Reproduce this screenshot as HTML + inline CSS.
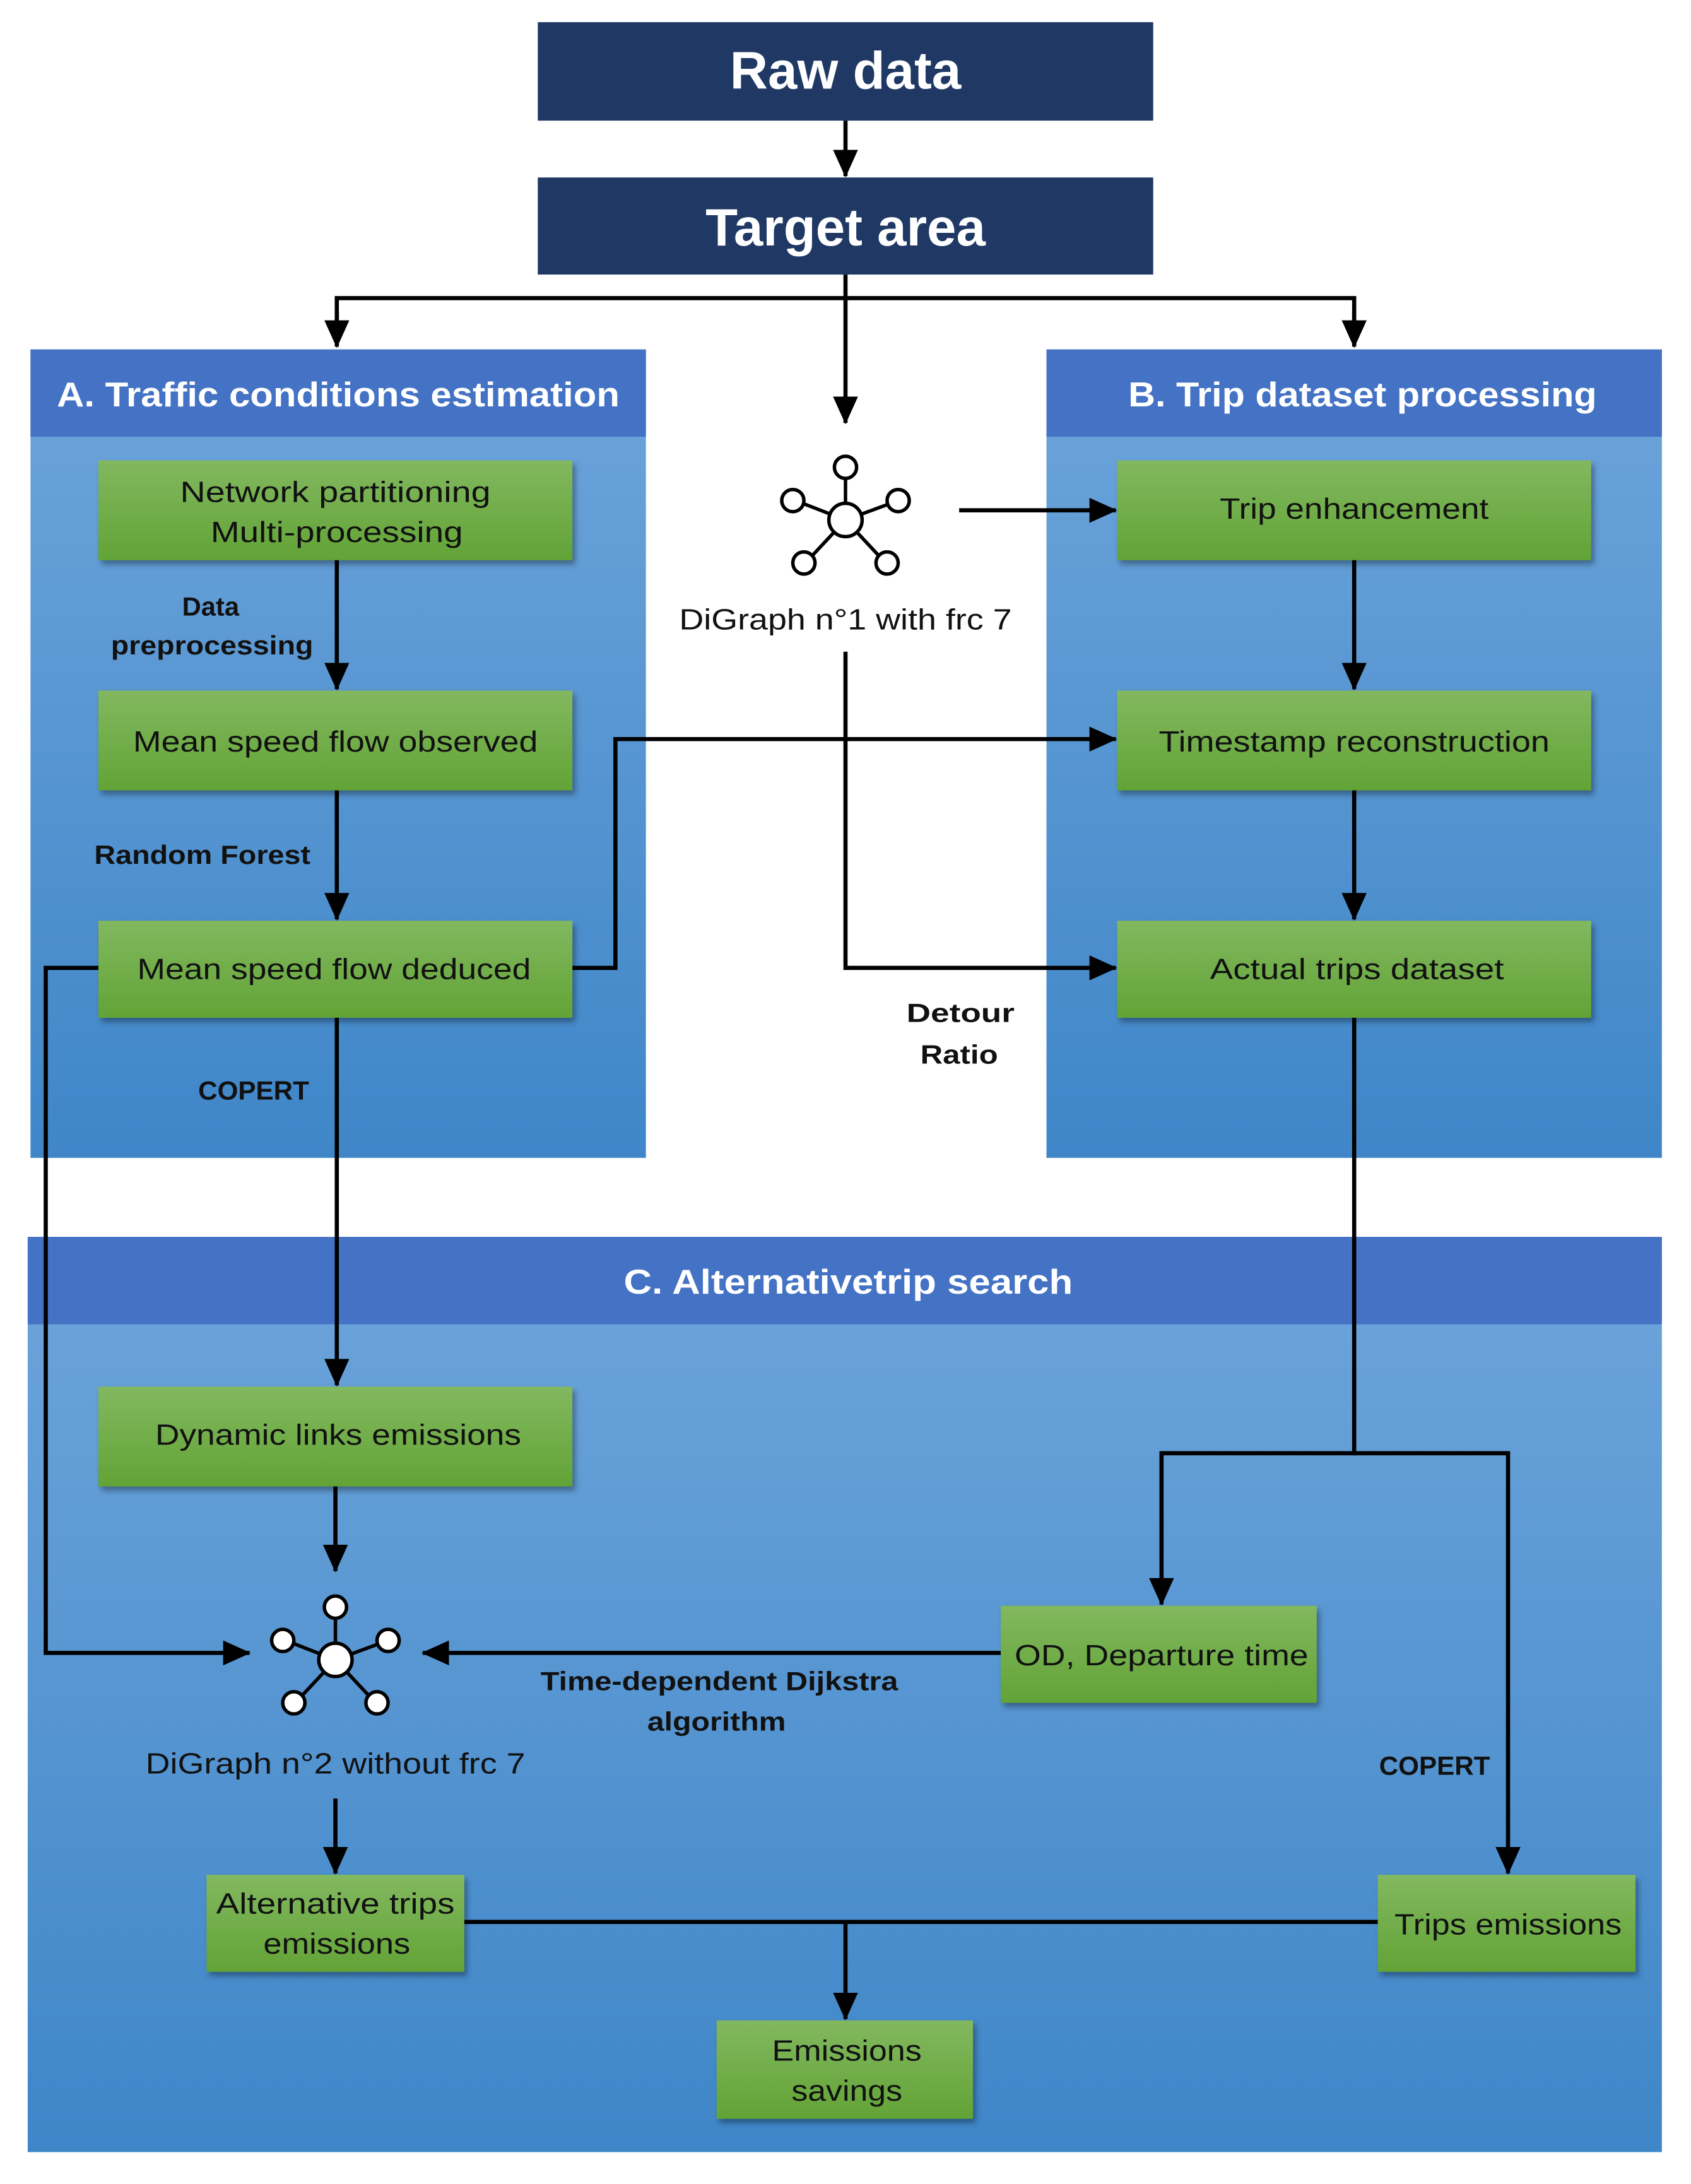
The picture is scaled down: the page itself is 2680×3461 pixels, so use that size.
<!DOCTYPE html>
<html><head><meta charset="utf-8"><style>html,body{margin:0;padding:0;background:#fff}svg{display:block}</style></head>
<body>
<svg width="2680" height="3461" viewBox="0 0 1220 1575" preserveAspectRatio="none" xmlns="http://www.w3.org/2000/svg" font-family="'Liberation Sans', sans-serif">
<defs>
<linearGradient id="pb" x1="0" y1="0" x2="0" y2="1"><stop offset="0" stop-color="#6ea5db"/><stop offset="1" stop-color="#3f86c8"/></linearGradient>
<linearGradient id="gb" x1="0" y1="0" x2="0" y2="1"><stop offset="0" stop-color="#82b85f"/><stop offset="1" stop-color="#62a336"/></linearGradient>
<marker id="ar" markerWidth="20" markerHeight="18" refX="19" refY="9" orient="auto" markerUnits="userSpaceOnUse" viewBox="0 0 20 18"><path d="M0,0 L20,9 L0,18 z" fill="#000"/></marker>
</defs>
<!-- top boxes -->
<rect x="388" y="16" width="444" height="71" fill="#1f3864"/>
<text x="610" y="64" font-size="38" font-weight="bold" fill="#fff" text-anchor="middle">Raw data</text>
<rect x="388" y="128" width="444" height="70" fill="#1f3864"/>
<text x="610" y="177" font-size="38" font-weight="bold" fill="#fff" text-anchor="middle">Target area</text>

<!-- panels -->
<rect x="22" y="252" width="444" height="583" fill="url(#pb)"/>
<rect x="22" y="252" width="444" height="63" fill="#4472c4"/>
<text x="244" y="293" font-size="25" font-weight="bold" fill="#fff" text-anchor="middle" textLength="406" lengthAdjust="spacingAndGlyphs">A. Traffic conditions estimation</text>
<rect x="755" y="252" width="444" height="583" fill="url(#pb)"/>
<rect x="755" y="252" width="444" height="63" fill="#4472c4"/>
<text x="983" y="293" font-size="25" font-weight="bold" fill="#fff" text-anchor="middle" textLength="338" lengthAdjust="spacingAndGlyphs">B. Trip dataset processing</text>
<rect x="20" y="892" width="1179" height="660" fill="url(#pb)"/>
<rect x="20" y="892" width="1179" height="63" fill="#4472c4"/>
<text x="612" y="933" font-size="25" font-weight="bold" fill="#fff" text-anchor="middle" textLength="324" lengthAdjust="spacingAndGlyphs">C. Alternativetrip search</text>

<!-- green boxes -->
<g fill="url(#gb)" style="filter:drop-shadow(2px 3px 2px rgba(0,0,0,0.35))">
<rect x="71" y="332" width="342" height="72"/>
<rect x="71" y="498" width="342" height="72"/>
<rect x="71" y="664" width="342" height="70"/>
<rect x="71" y="1000" width="342" height="72"/>
<rect x="806" y="332" width="342" height="72"/>
<rect x="806" y="498" width="342" height="72"/>
<rect x="806" y="664" width="342" height="70"/>
<rect x="722" y="1158" width="228" height="70"/>
<rect x="149" y="1352" width="186" height="70"/>
<rect x="994" y="1352" width="186" height="70"/>
<rect x="517" y="1457" width="185" height="71"/>
</g>
<g font-size="21" fill="#111" text-anchor="middle">
<text x="242" y="362" textLength="224" lengthAdjust="spacingAndGlyphs">Network partitioning</text>
<text x="243" y="391" textLength="182" lengthAdjust="spacingAndGlyphs">Multi-processing</text>
<text x="242" y="542" textLength="292" lengthAdjust="spacingAndGlyphs">Mean speed flow observed</text>
<text x="241" y="706" textLength="284" lengthAdjust="spacingAndGlyphs">Mean speed flow deduced</text>
<text x="244" y="1042" textLength="264" lengthAdjust="spacingAndGlyphs">Dynamic links emissions</text>
<text x="977" y="374" textLength="194" lengthAdjust="spacingAndGlyphs">Trip enhancement</text>
<text x="977" y="542" textLength="282" lengthAdjust="spacingAndGlyphs">Timestamp reconstruction</text>
<text x="979" y="706" textLength="212" lengthAdjust="spacingAndGlyphs">Actual trips dataset</text>
<text x="838" y="1201" textLength="212" lengthAdjust="spacingAndGlyphs">OD, Departure time</text>
<text x="242" y="1380" textLength="172" lengthAdjust="spacingAndGlyphs">Alternative trips</text>
<text x="243" y="1409" textLength="106" lengthAdjust="spacingAndGlyphs">emissions</text>
<text x="1088" y="1395" textLength="164" lengthAdjust="spacingAndGlyphs">Trips emissions</text>
<text x="611" y="1486" textLength="108" lengthAdjust="spacingAndGlyphs">Emissions</text>
<text x="611" y="1515" textLength="80" lengthAdjust="spacingAndGlyphs">savings</text>
<text x="610" y="454" textLength="240" lengthAdjust="spacingAndGlyphs">DiGraph n°1 with frc 7</text>
<text x="242" y="1279" textLength="274" lengthAdjust="spacingAndGlyphs">DiGraph n°2 without frc 7</text>
</g>
<g font-size="19" font-weight="bold" fill="#111" text-anchor="middle">
<text x="152" y="444">Data</text>
<text x="153" y="472" textLength="146" lengthAdjust="spacingAndGlyphs">preprocessing</text>
<text x="146" y="623" textLength="156" lengthAdjust="spacingAndGlyphs">Random Forest</text>
<text x="183" y="793" textLength="80" lengthAdjust="spacingAndGlyphs">COPERT</text>
<text x="693" y="737" textLength="78" lengthAdjust="spacingAndGlyphs">Detour</text>
<text x="692" y="767" textLength="56" lengthAdjust="spacingAndGlyphs">Ratio</text>
<text x="1035" y="1280" textLength="80" lengthAdjust="spacingAndGlyphs">COPERT</text>
<text x="519" y="1219" textLength="258" lengthAdjust="spacingAndGlyphs">Time-dependent Dijkstra</text>
<text x="517" y="1248" textLength="100" lengthAdjust="spacingAndGlyphs">algorithm</text>
</g>

<!-- graph icons -->
<g stroke="#000" stroke-width="2.5" fill="#fff">
<g transform="translate(610,375)">
<line x1="0" y1="0" x2="0" y2="-38"/><line x1="0" y1="0" x2="-36" y2="-14"/><line x1="0" y1="0" x2="38" y2="-14"/><line x1="0" y1="0" x2="-28" y2="30"/><line x1="0" y1="0" x2="28" y2="30"/>
<circle r="12"/><circle cy="-38" r="8"/><circle cx="-38" cy="-14" r="8"/><circle cx="38" cy="-14" r="8"/><circle cx="-30" cy="31" r="8"/><circle cx="30" cy="31" r="8"/>
</g>
<g transform="translate(242,1197)">
<line x1="0" y1="0" x2="0" y2="-38"/><line x1="0" y1="0" x2="-36" y2="-14"/><line x1="0" y1="0" x2="38" y2="-14"/><line x1="0" y1="0" x2="-28" y2="30"/><line x1="0" y1="0" x2="28" y2="30"/>
<circle r="12"/><circle cy="-38" r="8"/><circle cx="-38" cy="-14" r="8"/><circle cx="38" cy="-14" r="8"/><circle cx="-30" cy="31" r="8"/><circle cx="30" cy="31" r="8"/>
</g>
</g>

<!-- connectors -->
<g stroke="#000" stroke-width="3" fill="none">
<line x1="610" y1="87" x2="610" y2="127" marker-end="url(#ar)"/>
<line x1="610" y1="198" x2="610" y2="305" marker-end="url(#ar)"/>
<polyline points="243,240 243,215 977,215 977,240"/>
<line x1="243" y1="225" x2="243" y2="250" marker-end="url(#ar)"/>
<line x1="977" y1="225" x2="977" y2="250" marker-end="url(#ar)"/>
<line x1="692" y1="368" x2="805" y2="368" marker-end="url(#ar)"/>
<line x1="243" y1="404" x2="243" y2="497" marker-end="url(#ar)"/>
<line x1="243" y1="570" x2="243" y2="663" marker-end="url(#ar)"/>
<polyline points="413,698 444,698 444,533 805,533" marker-end="url(#ar)"/>
<polyline points="610,470 610,698 805,698" marker-end="url(#ar)"/>
<line x1="977" y1="404" x2="977" y2="497" marker-end="url(#ar)"/>
<line x1="977" y1="570" x2="977" y2="663" marker-end="url(#ar)"/>
<polyline points="977,734 977,1048 838,1048 838,1157" marker-end="url(#ar)"/>
<polyline points="977,1048 1088,1048 1088,1351" marker-end="url(#ar)"/>
<line x1="243" y1="734" x2="243" y2="999" marker-end="url(#ar)"/>
<polyline points="71,698 33,698 33,1192 180,1192" marker-end="url(#ar)"/>
<line x1="242" y1="1072" x2="242" y2="1133" marker-end="url(#ar)"/>
<line x1="722" y1="1192" x2="305" y2="1192" marker-end="url(#ar)"/>
<line x1="242" y1="1297" x2="242" y2="1351" marker-end="url(#ar)"/>
<line x1="335" y1="1386" x2="994" y2="1386"/>
<line x1="610" y1="1386" x2="610" y2="1456" marker-end="url(#ar)"/>
</g>
</svg>
</body></html>
